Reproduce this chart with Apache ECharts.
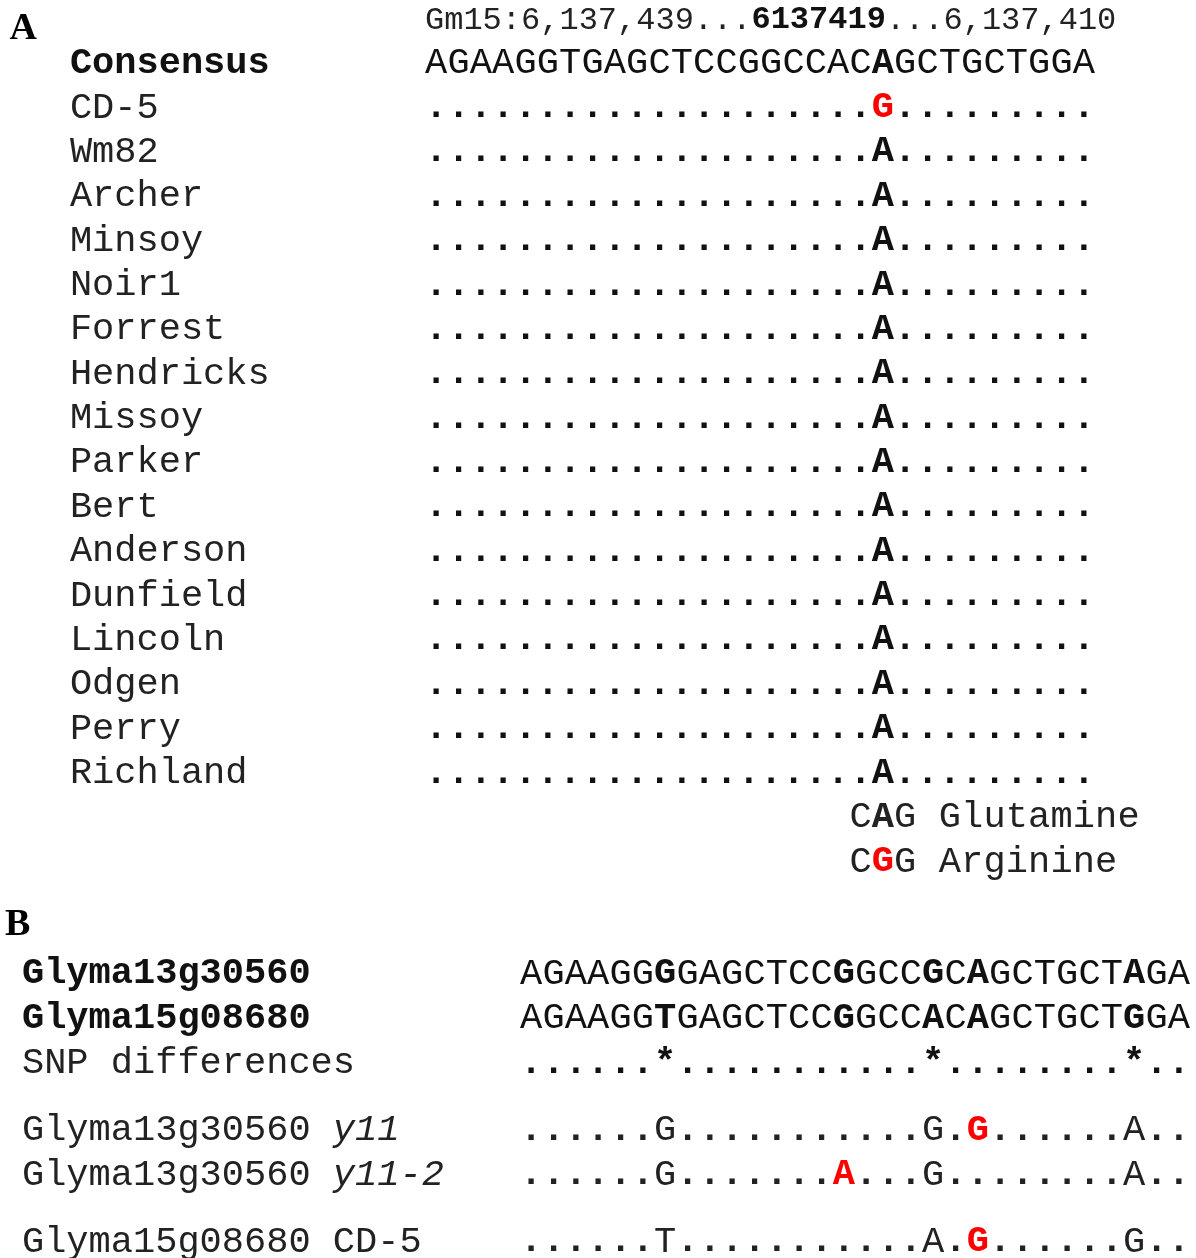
<!DOCTYPE html>
<html>
<head>
<meta charset="utf-8">
<script src="https://cdn.jsdelivr.net/npm/echarts@6/dist/echarts.min.js"></script>
<style>
html,body{margin:0;padding:0;background:#fff;}
#chart{width:1196px;height:1258px;}
</style>
</head>
<body>
<div id="chart"></div>
<script>
// ---------- data ----------
const headerParts = ['Gm15:6,137,439...', '6137419', '...6,137,410'];
const consensusName = 'Consensus';
const consensusSeq = 'AGAAGGTGAGCTCCGGCCACAGCTGCTGGA';
const snpPos = 20;
const cultivars = ['CD-5','Wm82','Archer','Minsoy','Noir1','Forrest','Hendricks','Missoy','Parker','Bert','Anderson','Dunfield','Lincoln','Odgen','Perry','Richland'];
const cultivarAlleles = ['G','A','A','A','A','A','A','A','A','A','A','A','A','A','A','A'];
const codons = ['CAG Glutamine', 'CGG Arginine'];

const geneNames = ['Glyma13g30560', 'Glyma15g08680'];
const geneSeqs = ['AGAAGGGGAGCTCCGGCCGCAGCTGCTAGA', 'AGAAGGTGAGCTCCGGCCACAGCTGCTGGA'];
const geneBoldPos = [6, 14, 18, 20, 27];
const snpLabel = 'SNP differences';
const snpRow = '......*...........*........*..';
const alleleNames = [['Glyma13g30560', 'y11', true], ['Glyma13g30560', 'y11-2', true], ['Glyma15g08680', 'CD-5', false]];
const alleleSeqs = ['......G...........G.G......A..', '......G.......A...G........A..', '......T...........A.G......G..'];
const alleleRedPos = [[20], [14], [20]];
const rowsB = [0, 1, 2, 3.5, 4.5, 6];

// ---------- layout constants ----------
const MONO = '"Liberation Mono", "Courier New", monospace';
const SERIF = '"Liberation Serif", "Times New Roman", serif';
const FS = 37;
const BLACK = '#111';
const RED = '#ff0000';
const NAME_X_A = -15.9, PANEL_X_A = -18.6, PANEL_Y_A = 0.22;
const NAME_X_B = -22.3, PANEL_X_B = -23.06, PANEL_Y_B = -1.1;

// ---------- build items ----------
const itemsA = [];
const itemsB = [];
function ch(list, x, y, t, opt) {
  list.push(Object.assign({x: x + 0.5, y: y, text: t, align: 'center', weight: 'normal', color: BLACK, size: FS, family: MONO}, opt || {}));
}
function lbl(list, x, y, t, opt) {
  list.push(Object.assign({x: x, y: y, text: t, align: 'left', weight: 'normal', color: BLACK, size: FS, family: MONO}, opt || {}));
}
// Panel A
lbl(itemsA, PANEL_X_A, PANEL_Y_A, 'A', {family: SERIF, weight: 'bold', size: 38, color: '#000'});
lbl(itemsA, 0, 0.03, headerParts.map((p, i) => i === 1 ? '{b|' + p + '}' : '{n|' + p + '}').join(''), {
  size: 32,
  rich: {n: {fontFamily: MONO, fontSize: 32, fill: '#222'}, b: {fontFamily: MONO, fontSize: 32, fontWeight: 'bold', fill: BLACK}}
});
lbl(itemsA, NAME_X_A, 1, consensusName, {weight: 'bold'});
consensusSeq.split('').forEach((c, i) => ch(itemsA, i, 1, c, {weight: i === snpPos ? 'bold' : 'normal'}));
cultivars.forEach((name, r) => {
  const y = r + 2;
  lbl(itemsA, NAME_X_A, y, name, {color: '#222'});
  for (let i = 0; i < consensusSeq.length; i++) {
    if (i === snpPos) {
      const a = cultivarAlleles[r];
      ch(itemsA, i, y, a, {weight: 'bold', color: a !== consensusSeq[i] ? RED : BLACK});
    } else {
      ch(itemsA, i, y, '.', {weight: 'bold'});
    }
  }
});
codons.forEach((s, k) => {
  const y = cultivars.length + 2 + k;
  s.split('').forEach((c, j) => {
    const isMid = j === 1;
    ch(itemsA, snpPos - 1 + j, y, c, {
      weight: isMid ? 'bold' : 'normal',
      color: isMid && c !== consensusSeq[snpPos] ? RED : '#222'
    });
  });
});
// Panel B
lbl(itemsB, PANEL_X_B, PANEL_Y_B, 'B', {family: SERIF, weight: 'bold', size: 38, color: '#000'});
geneNames.forEach((name, r) => {
  lbl(itemsB, NAME_X_B, rowsB[r], name, {weight: 'bold'});
  geneSeqs[r].split('').forEach((c, i) => ch(itemsB, i, rowsB[r], c, {weight: geneBoldPos.indexOf(i) >= 0 ? 'bold' : 'normal'}));
});
lbl(itemsB, NAME_X_B, rowsB[2], snpLabel, {color: '#222'});
snpRow.split('').forEach((c, i) => ch(itemsB, i, rowsB[2], c, {weight: 'bold'}));
alleleNames.forEach((nm, r) => {
  const y = rowsB[3 + r];
  lbl(itemsB, NAME_X_B, y, nm[0] + ' ' + (nm[2] ? '{i|' + nm[1] + '}' : nm[1]), {
    color: '#222',
    rich: {i: {fontFamily: MONO, fontSize: FS, fontStyle: 'italic', fill: '#222'}}
  });
  alleleSeqs[r].split('').forEach((c, i) => {
    const red = alleleRedPos[r].indexOf(i) >= 0;
    ch(itemsB, i, y, c, {weight: (c === '.' || red) ? 'bold' : 'normal', color: red ? RED : '#222'});
  });
});

function makeRender(items) {
  return function (params, api) {
    const it = items[params.dataIndex];
    const p = api.coord([api.value(0), api.value(1)]);
    const style = {
      text: it.text, fill: it.color, fontSize: it.size, fontFamily: it.family,
      fontWeight: it.weight, align: it.align, verticalAlign: 'middle'
    };
    if (it.rich) style.rich = it.rich;
    return {type: 'text', x: p[0], y: p[1], style: style};
  };
}

const chart = echarts.init(document.getElementById('chart'), null, {renderer: 'canvas'});
chart.setOption({
  backgroundColor: '#fff',
  animation: false,
  grid: [
    {left: 425, top: 19, width: 670, height: 843},
    {left: 520, top: 974, width: 670, height: 268}
  ],
  xAxis: [
    {gridIndex: 0, type: 'value', min: 0, max: 30, show: false},
    {gridIndex: 1, type: 'value', min: 0, max: 30, show: false}
  ],
  yAxis: [
    {gridIndex: 0, type: 'value', min: 0, max: 19, inverse: true, show: false},
    {gridIndex: 1, type: 'value', min: 0, max: 6, inverse: true, show: false}
  ],
  series: [
    {type: 'custom', xAxisIndex: 0, yAxisIndex: 0, renderItem: makeRender(itemsA), data: itemsA.map(d => [d.x, d.y]), silent: true},
    {type: 'custom', xAxisIndex: 1, yAxisIndex: 1, renderItem: makeRender(itemsB), data: itemsB.map(d => [d.x, d.y]), silent: true}
  ]
});
</script>
</body>
</html>
